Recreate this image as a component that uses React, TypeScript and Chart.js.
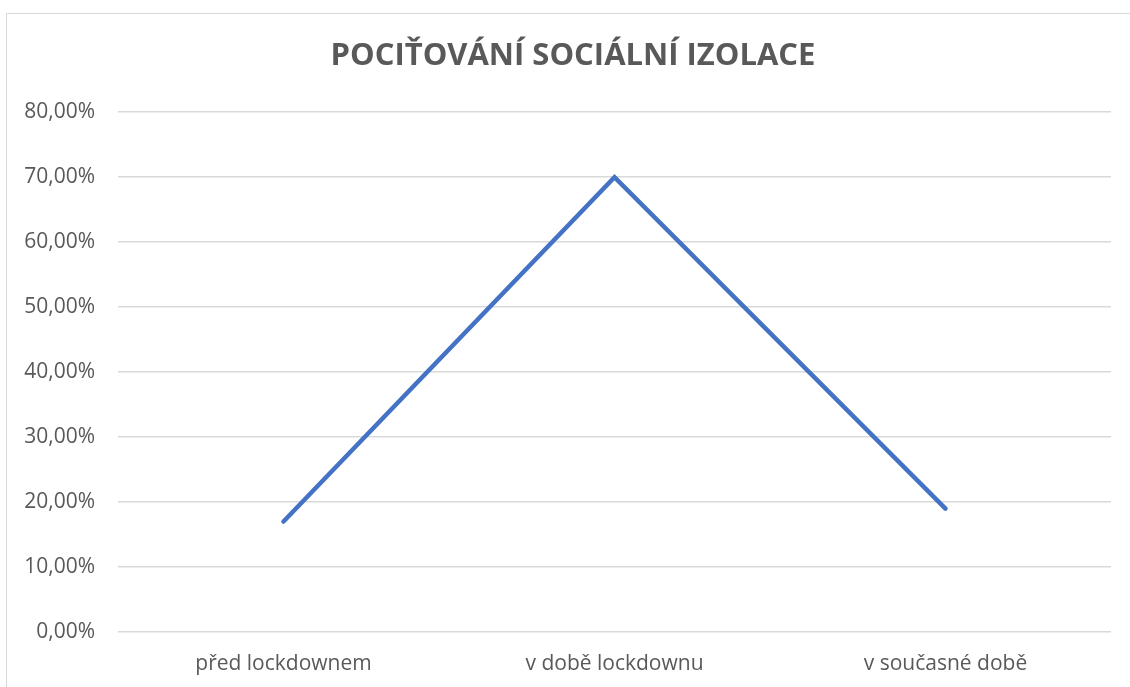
import React, { useEffect, useRef } from "react";
import { Chart, registerables } from "chart.js";

Chart.register(...registerables);

const categories = ["před lockdownem", "v době lockdownu", "v současné době"];
const values = [17, 70, 19];
const titleText = "POCIŤOVÁNÍ SOCIÁLNÍ IZOLACE";
const yMin = 0;
const yMax = 80;
const yStep = 10;

const titleShift = {
  id: "titleShift",
  afterLayout(chart: any) {
    if (chart.titleBlock) {
      chart.titleBlock.right += 35;
    }
  },
};

export default function App() {
  const ref = useRef<HTMLCanvasElement | null>(null);
  useEffect(() => {
    if (!ref.current) return;
    const chart = new Chart(ref.current, {
      type: "line",
      data: {
        labels: categories,
        datasets: [
          {
            data: values,
            borderColor: "#4472C4",
            borderWidth: 4.5,
            borderCapStyle: "round",
            borderJoinStyle: "miter",
            pointRadius: 0,
            tension: 0,
          },
        ],
      },
      plugins: [titleShift],
      options: {
        animation: false,
        responsive: false,
        maintainAspectRatio: false,
        layout: { padding: { left: 0, right: 35, top: 0, bottom: 0 } },
        plugins: {
          legend: { display: false },
          tooltip: { enabled: false },
          title: {
            display: true,
            text: titleText,
            color: "#595959",
            font: { family: "'Open Sans'", size: 31, weight: "bold", lineHeight: 1.2 },
            padding: { top: 38, bottom: 37 },
          },
        },
        scales: {
          x: {
            offset: true,
            grid: { display: false, drawTicks: false },
            border: { display: false },
            ticks: {
              color: "#595959",
              font: { family: "'Open Sans'", size: 21 },
              padding: 19,
              maxRotation: 0,
            },
            afterFit: (s: any) => {
              s.height = 55;
            },
          },
          y: {
            min: yMin,
            max: yMax,
            grid: { color: "#d9d9d9", lineWidth: 1.5, drawTicks: false },
            border: { display: false },
            ticks: {
              stepSize: yStep,
              color: "#595959",
              font: { family: "'Open Sans'", size: 21 },
              padding: 23,
              callback: (v: any) => Number(v).toFixed(2).replace(".", ",") + "%",
            },
            afterFit: (s: any) => {
              s.width = 118;
            },
          },
        },
      },
    });
    return () => chart.destroy();
  }, []);
  return (
    <div
      style={{
        position: "fixed",
        left: 0,
        top: 0,
        width: 1130,
        height: 687,
        overflow: "hidden",
        background: "#ffffff",
      }}
    >
      <div
        style={{
          position: "absolute",
          left: 6,
          top: 13,
          width: 1200,
          height: 800,
          border: "1.5px solid #d9d9d9",
        }}
      />
      <canvas
        ref={ref}
        width={1146}
        height={687}
        style={{ position: "absolute", left: 0, top: 0, width: 1146, height: 687 }}
      />
    </div>
  );
}
